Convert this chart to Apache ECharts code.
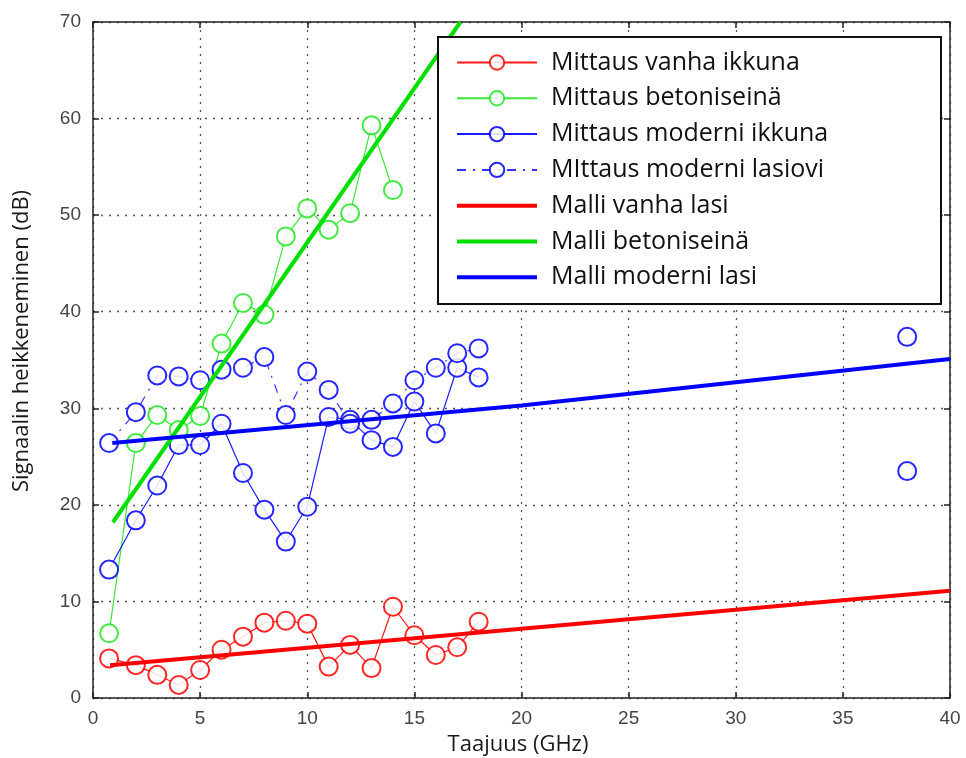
<!DOCTYPE html>
<html>
<head>
<meta charset="utf-8">
<script src="https://cdn.jsdelivr.net/npm/echarts@6/dist/echarts.min.js"></script>
<style>html,body{margin:0;padding:0;background:#fff;}#c{width:966px;height:758px;}</style>
</head>
<body>
<div id="c"></div>
<script>
// ---- data ----
const freq = [0.75, 2, 3, 4, 5, 6, 7, 8, 9, 10, 11, 12, 13, 14, 15, 16, 17, 18];
const oldWindow = [4.1, 3.4, 2.4, 1.35, 2.9, 5.0, 6.35, 7.8, 8.0, 7.7, 3.25, 5.5, 3.1, 9.45, 6.5, 4.45, 5.25, 7.9];
const concrete = [6.7, 26.4, 29.3, 27.75, 29.2, 36.7, 40.9, 39.7, 47.8, 50.7, 48.5, 50.2, 59.3, 52.6];
const modernWindow = [13.3, 18.4, 22.0, 26.2, 26.2, 28.4, 23.3, 19.5, 16.2, 19.8, 29.1, 28.8, 26.7, 26.0, 30.7, 27.4, 34.2, 33.2];
const modernDoor = [26.4, 29.6, 33.4, 33.3, 32.9, 34.0, 34.2, 35.3, 29.3, 33.8, 31.9, 28.4, 28.8, 30.5, 32.9, 34.2, 35.7, 36.2];
const extraFreq = [38];
const modernWindowExtra = [23.5];
const modernDoorExtra = [37.4];
const modelOldX = [0.8, 40];
const modelOldY = [3.4, 11.1];
const modelConcreteX = [0.93, 17.15];
const modelConcreteY = [18.2, 70];
const modelModernX = [0.9, 20, 40];
const modelModernY = [26.4, 30.3, 35.1];
const xTicks = [0, 5, 10, 15, 20, 25, 30, 35, 40];
const yTicks = [0, 10, 20, 30, 40, 50, 60, 70];
const names = ['Mittaus vanha ikkuna', 'Mittaus betoniseinä', 'Mittaus moderni ikkuna', 'MIttaus moderni lasiovi', 'Malli vanha lasi', 'Malli betoniseinä', 'Malli moderni lasi'];
const xTitle = 'Taajuus (GHz)';
const yTitle = 'Signaalin heikkeneminen (dB)';

function pairs(xs, ys) { return ys.map((y, i) => [xs[i], y]); }
function withGap(xs, ys, ex, ey) {
  const d = pairs(xs, ys);
  d.push([null, null]);
  return d.concat(pairs(ex, ey));
}

const RED = '#ff0000', GREEN = '#00e000', BLUE = '#0000ff';
const LGREEN = '#22e622';
const grid = { left: 93, right: 16, top: 22, bottom: 60 };

function meas(name, color, data, dashed) {
  return {
    name, type: 'line', data, xAxisIndex: 0, yAxisIndex: 0,
    symbol: 'emptyCircle', symbolSize: 18, connectNulls: false,
    lineStyle: { color, width: 1.2, type: dashed ? [9, 7, 2, 7] : 'solid', opacity: dashed ? 0.8 : 0.9 },
    itemStyle: { color, borderColor: color, borderWidth: 1.5, opacity: 0.85 },
    emphasis: { disabled: true }, z: 3, animation: false
  };
}
function model(name, color, data) {
  return {
    name, type: 'line', data, xAxisIndex: 0, yAxisIndex: 0,
    symbol: 'none', clip: true,
    lineStyle: { color, width: 4 },
    itemStyle: { color },
    emphasis: { disabled: true }, z: 4, animation: false
  };
}

const axisText = { color: '#454545', fontSize: 19, fontFamily: 'Liberation Sans, Arial, sans-serif' };
const splitDots = { show: true, lineStyle: { color: '#555', width: 1.3, type: [2, 6] } };
const titleFont = { fill: '#1a1a1a', fontSize: 22, fontFamily: 'Open Sans, sans-serif' };

const legendData = names.map((n, i) => i < 4 ? { name: n } : { name: n, itemStyle: { opacity: 0 }, lineStyle: { width: 4 } });

const option = {
  animation: false,
  backgroundColor: '#fff',
  grid,
  xAxis: [
    {
      type: 'value', min: 0, max: 40, interval: 5, position: 'bottom',
      axisLine: { show: true, onZero: false, lineStyle: { color: '#222', width: 1.5 } },
      axisTick: { show: true, inside: true, length: 6, lineStyle: { color: '#222', width: 1.5 } },
      axisLabel: Object.assign({ margin: 11, formatter: v => xTicks.includes(v) ? String(v) : '' }, axisText),
      splitLine: splitDots
    },
    {
      type: 'value', min: 0, max: 40, interval: 5, position: 'top',
      axisLine: { show: true, onZero: false, lineStyle: { color: '#222', width: 1.5 } },
      axisTick: { show: true, inside: true, length: 6, lineStyle: { color: '#222', width: 1.5 } },
      axisLabel: { show: false }, splitLine: { show: false }
    }
  ],
  yAxis: [
    {
      type: 'value', min: 0, max: 70, interval: 10, position: 'left',
      axisLine: { show: true, onZero: false, lineStyle: { color: '#222', width: 1.5 } },
      axisTick: { show: true, inside: true, length: 6, lineStyle: { color: '#222', width: 1.5 } },
      axisLabel: Object.assign({ margin: 12, formatter: v => yTicks.includes(v) ? String(v) : '' }, axisText),
      splitLine: splitDots
    },
    {
      type: 'value', min: 0, max: 70, interval: 10, position: 'right',
      axisLine: { show: true, onZero: false, lineStyle: { color: '#222', width: 1.5 } },
      axisTick: { show: true, inside: true, length: 6, lineStyle: { color: '#222', width: 1.5 } },
      axisLabel: { show: false }, splitLine: { show: false }
    }
  ],
  legend: {
    orient: 'vertical', left: 455, top: 50, z: 50,
    itemWidth: 80, itemHeight: 18, itemGap: 10.8,
    padding: 0,
    selectedMode: false,
    data: legendData,
    textStyle: { color: '#111', fontSize: 25, fontFamily: 'Open Sans, sans-serif', padding: [0, 0, 0, 9] }
  },
  graphic: [
    {
      type: 'rect', left: 437, top: 36, z: 10, silent: true,
      shape: { width: 503, height: 267 },
      style: { fill: '#fff', stroke: '#111', lineWidth: 2 }
    },
    {
      type: 'text', x: 518, y: 745, z: 10, silent: true,
      style: Object.assign({ text: xTitle, align: 'center', verticalAlign: 'middle' }, titleFont)
    },
    {
      type: 'text', x: 22, y: 341, rotation: Math.PI / 2, z: 10, silent: true,
      style: Object.assign({ text: yTitle, align: 'center', verticalAlign: 'middle' }, titleFont)
    }
  ],
  series: [
    meas(names[0], RED, pairs(freq, oldWindow), false),
    meas(names[1], LGREEN, pairs(freq, concrete), false),
    meas(names[2], BLUE, withGap(freq, modernWindow, extraFreq, modernWindowExtra), false),
    meas(names[3], BLUE, withGap(freq, modernDoor, extraFreq, modernDoorExtra), true),
    model(names[4], RED, pairs(modelOldX, modelOldY)),
    model(names[5], GREEN, pairs(modelConcreteX, modelConcreteY)),
    model(names[6], BLUE, pairs(modelModernX, modelModernY))
  ]
};

const chart = echarts.init(document.getElementById('c'), null, { renderer: 'canvas' });
chart.setOption(option);
</script>
</body>
</html>
